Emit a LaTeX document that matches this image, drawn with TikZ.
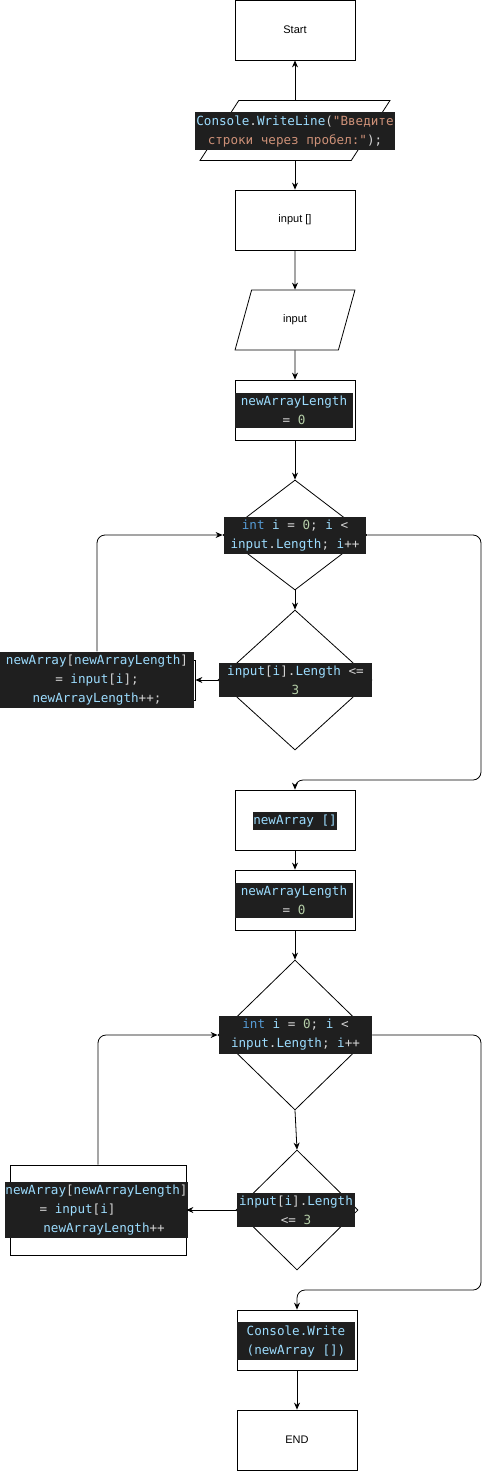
\documentclass[tikz,border=0pt]{standalone}
\usepackage{fontspec}
\setmainfont{Liberation Sans}
\setmonofont{DejaVu Sans Mono}
\usetikzlibrary{shapes.geometric,arrows.meta}

\definecolor{codebg}{HTML}{1F1F1F}
\definecolor{idblue}{HTML}{9CDCFE}
\definecolor{kwblue}{HTML}{569CD6}
\definecolor{numgreen}{HTML}{B5CEA8}
\definecolor{strorange}{HTML}{CE9178}
\definecolor{opgrey}{HTML}{D4D4D4}

\newcommand{\cid}[1]{\textcolor{idblue}{#1}}
\newcommand{\ckw}[1]{\textcolor{kwblue}{#1}}
\newcommand{\cnum}[1]{\textcolor{numgreen}{#1}}
\newcommand{\cstr}[1]{\textcolor{strorange}{#1}}
\newcommand{\cop}[1]{\textcolor{opgrey}{#1}}

\begin{document}
\begin{tikzpicture}[x=1pt,y=-1pt,line width=0.8pt,
    every node/.style={font=\fontsize{11}{13}\selectfont},
    proc/.style={draw,minimum width=120pt,minimum height=60pt},
    io/.style={draw,trapezium,trapezium left angle=71,trapezium right angle=109,
               trapezium stretches=true,minimum height=60pt},
    cond/.style={draw,diamond,inner sep=0pt},
    codelbl/.style={fill=codebg,text=idblue,align=center,inner xsep=0pt,inner ysep=3pt,
                    font=\ttfamily\fontsize{12.6}{19}\selectfont},
    arr/.style={-{Stealth[length=7pt,width=6pt]}},
    backline/.style={arr,rounded corners=8pt}]
  \useasboundingbox (0,0) rectangle (489,1471);

  %%%% Shapes %%%%%%%%%%%%%%%%%%%%%%%%%%%%%%%%%%%%%%%%%%%%%%%%%%%%%%%%%%
  \node[proc] (start) at (295,30) {Start};
  \node[io,minimum width=190pt] (write) at (295,130.5) {};
  \node[proc] (inbox) at (295,220) {input []};
  \node[io,minimum width=120pt] (inpara) at (295,320) {input};
  \node[proc] (len1) at (295,410) {};
  \node[cond,minimum width=144pt,minimum height=110pt] (dia1) at (295,535) {};
  \node[cond,minimum width=154pt,minimum height=140pt] (dia2) at (295,680) {};
  \node[draw,minimum width=194pt,minimum height=40pt] (left1) at (98,680) {};
  \node[proc] (newarr) at (295,820) {};
  \node[proc] (len2) at (295,900) {};
  \node[cond,minimum width=154pt,minimum height=150pt] (dia3) at (295,1035) {};
  \node[cond,minimum width=122pt,minimum height=120pt] (dia4) at (297,1210) {};
  \node[draw,minimum width=176pt,minimum height=90pt] (left2) at (98,1210) {};
  \node[proc] (out) at (297,1340) {};
  \node[proc] (endbox) at (297,1440) {END};

  %%%% Code labels %%%%%%%%%%%%%%%%%%%%%%%%%%%%%%%%%%%%%%%%%%%%%%%%%%%%%
  \node[codelbl,minimum width=200pt] (writetxt) at (295,131)
    {\cid{Console}\cop{.}\cid{WriteLine}\cop{(}\cstr{"Введите}\\\cstr{строки через пробел:"}\cop{);}};
  \node[codelbl,minimum width=118pt] (len1txt) at (294,410.5)
    {\cid{newArrayLength}\\\cop{=} \cnum{0}};
  \node[codelbl,minimum width=142pt] (dia1txt) at (295,535.5)
    {\ckw{int} \cid{i} \cop{=} \cnum{0}\cop{;} \cid{i} \cop{<}\\\cid{input}\cop{.}\cid{Length}\cop{;} \cid{i}\cop{++}};
  \node[codelbl,minimum width=153pt] (dia2txt) at (295.5,680)
    {\cid{input}\cop{[}\cid{i}\cop{].}\cid{Length} \cop{<=}\\\cnum{3}};
  \node[codelbl,minimum width=194pt] (left1txt) at (97,680)
    {\cid{newArray}\cop{[}\cid{newArrayLength}\cop{]}\\\cop{=} \cid{input}\cop{[}\cid{i}\cop{];}\\\cid{newArrayLength}\cop{++;}};
  \node[codelbl] (newarrtxt) at (295,821) {\cid{newArray []}};
  \node[codelbl,minimum width=118pt] (len2txt) at (294,900.5)
    {\cid{newArrayLength}\\\cop{=} \cnum{0}};
  \node[codelbl,minimum width=153pt] (dia3txt) at (295.5,1035)
    {\ckw{int} \cid{i} \cop{=} \cnum{0}\cop{;} \cid{i} \cop{<}\\\cid{input}\cop{.}\cid{Length}\cop{;} \cid{i}\cop{++}};
  \node[codelbl,minimum width=118pt] (dia4txt) at (296,1210)
    {\cid{input}\cop{[}\cid{i}\cop{].}\cid{Length}\\\cop{<=} \cnum{3}};
  \node[codelbl,minimum width=183pt] (left2txt) at (96.5,1210)
    {\cid{newArray}\cop{[}\cid{newArrayLength}\cop{]}\\\cop{=} \cid{input}\cop{[}\cid{i}\cop{]}\phantom{00000}\\\phantom{00}\cid{newArrayLength}\cop{++}};
  \node[codelbl,minimum width=118pt] (outtxt) at (296,1341)
    {\cid{Console.Write}\\\cid{(newArray [])}};

  %%%% Connectors %%%%%%%%%%%%%%%%%%%%%%%%%%%%%%%%%%%%%%%%%%%%%%%%%%%%%%
  \coordinate (bend1) at (481,780);
  \coordinate (bend2) at (481,1290);

  \draw[arr] (write.north) -- (start.south);
  \draw[arr] (write.south) -- (inbox.north);
  \draw[arr] (inbox.south) -- (inpara.north);
  \draw[arr] (inpara.south) -- (len1.north);
  \draw[arr] (len1.south) -- (dia1.north);
  \draw[arr] (dia1.south) -- (dia2.north);
  \draw[arr] (dia2.west) -- (left1.east);
  \draw[backline] (left1txt.north) |- (dia1.west);
  \draw[backline] (dia1.east) -| (bend1) -| (newarr.north);
  \draw[arr] (newarr.south) -- (len2.north);
  \draw[arr] (len2.south) -- (dia3.north);
  \draw[arr] (dia3.south) -- (dia4.north);
  \draw[arr] (dia4.west) -- (left2.east);
  \draw[backline] (left2.north) |- (dia3.west);
  \draw[backline] (dia3.east) -| (bend2) -| (out.north);
  \draw[arr] (out.south) -- (endbox.north);
\end{tikzpicture}
\end{document}
